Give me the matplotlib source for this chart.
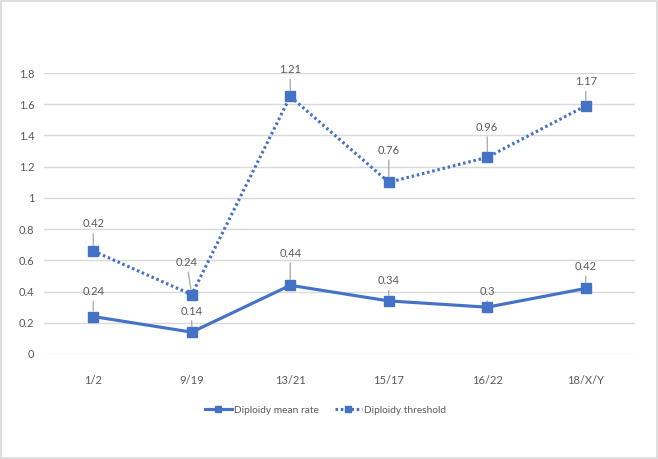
import matplotlib
matplotlib.use("Agg")
import matplotlib.pyplot as plt
from matplotlib.patches import Rectangle
import numpy as np

categories = ["1/2", "9/19", "13/21", "15/17", "16/22", "18/X/Y"]
mean_rate = [0.24, 0.14, 0.44, 0.34, 0.3, 0.42]
threshold = [0.42, 0.24, 1.21, 0.76, 0.96, 1.17]
y_ticks = [0, 0.2, 0.4, 0.6, 0.8, 1, 1.2, 1.4, 1.6, 1.8]
y_tick_labels = ["0", "0.2", "0.4", "0.6", "0.8", "1", "1.2", "1.4", "1.6", "1.8"]

# label offsets in pixels (dx, dy)
mean_offsets = [(0, 25), (0, 21), (0, 32), (0, 20), (0, 16), (0, 22)]
thr_offsets = [(0, 27), (-5, 32), (0, 27), (0, 32), (0, 30), (0, 24)]

plt.rcParams['font.family'] = ['Lato', 'DejaVu Sans']
blue = "#4472C4"
gray_text = "#595959"

fig = plt.figure(figsize=(6.58, 4.59), dpi=100)
ax = fig.add_axes([44/658, 1-354/459, (635-44)/658, (354-73)/459])

x = np.arange(len(categories))
stacked = np.array(mean_rate) + np.array(threshold)

ax.plot(x, mean_rate, color=blue, lw=2.25, marker='s', markersize=6.5,
        label="Diploidy mean rate", zorder=3)
ax.plot(x, stacked, color=blue, lw=2.25, linestyle=(0, (0.8, 0.9)),
        marker='s', markersize=6.5, label="Diploidy threshold", zorder=3)

def label(xs, ys, vals, offs):
    for xi, yi, v, (dx, dy) in zip(xs, ys, vals, offs):
        ax.annotate(f"{v:g}", xy=(xi, yi), xytext=(dx, dy),
                    textcoords='offset pixels', ha='center', va='center',
                    fontsize=8, color=gray_text,
                    arrowprops=dict(arrowstyle='-', color='#A6A6A6', lw=0.9,
                                    shrinkA=1, shrinkB=4))

label(x, mean_rate, mean_rate, mean_offsets)
label(x, stacked, threshold, thr_offsets)

ax.set_xlim(-0.5, len(categories) - 0.5)
ax.set_ylim(0, 1.8)
ax.set_yticks(y_ticks)
ax.set_yticklabels(y_tick_labels)
ax.set_xticks(x)
ax.set_xticklabels(categories)
ax.tick_params(axis='both', length=0, labelsize=8, labelcolor=gray_text)
ax.tick_params(axis='y', pad=7)
ax.tick_params(axis='x', pad=15)
ax.grid(axis='y', color='#D9D9D9', lw=1)
ax.set_axisbelow(True)
for s in ax.spines.values():
    s.set_visible(False)

fig.legend(loc='center', bbox_to_anchor=(0.495, 1-410/459), ncol=2, frameon=False,
           fontsize=7.3, labelcolor=gray_text, handlelength=2.6, columnspacing=1.6,
           handletextpad=0.25, markerscale=0.75)

fig.patches.append(Rectangle((0.002, 0.002), 0.996, 0.996, transform=fig.transFigure,
                             fill=False, edgecolor='#D9D9D9', lw=1.2))

fig.savefig("out.png", dpi=100)
